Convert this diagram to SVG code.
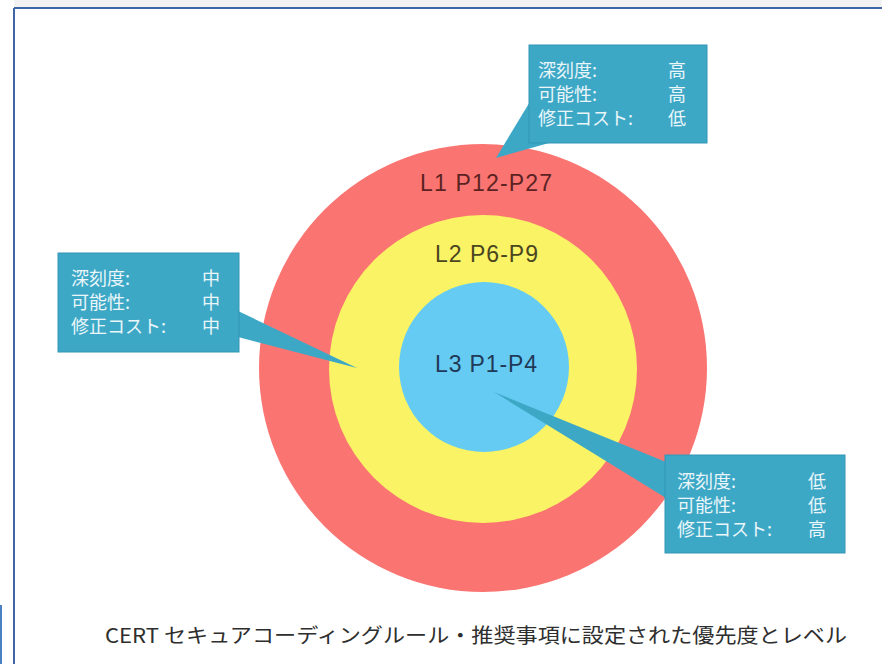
<svg xmlns="http://www.w3.org/2000/svg" width="882" height="664" viewBox="0 0 882 664">
<style>
.frame{stroke:#3f66a6;stroke-width:2;fill:none}
.ring-label{font-family:"Liberation Sans","Noto Sans",Arial,sans-serif;font-size:23px}
.box{fill:#3da8c6;stroke:#3296b5;stroke-width:1}
.tail{fill:#3da8c6}
.bt{font-family:"Noto Sans CJK JP","Noto Sans",sans-serif;font-size:18px;fill:#eaf6fa}
.cap{font-family:"Noto Sans CJK JP","Noto Sans",sans-serif;font-size:20px;fill:#2e2e2e}
</style>
<rect x="0" y="0" width="882" height="664" fill="#ffffff"/>
<rect x="14" y="0" width="868" height="7" fill="#f2f2f2"/>
<line class="frame" x1="14" y1="8" x2="882" y2="8"/>
<line class="frame" x1="14" y1="8" x2="14" y2="664"/>
<rect x="0" y="605" width="2" height="59" fill="#4a7fc0"/>

<g id="ring-l1">
<circle cx="483" cy="368" r="224" fill="#fa7572"/>
<text class="ring-label" x="420" y="191" fill="#5c2222" textLength="132">L1 P12-P27</text>
</g>
<g id="ring-l2">
<circle cx="483" cy="369" r="154" fill="#f9f365"/>
<text class="ring-label" x="435" y="262" fill="#4a4620" textLength="103">L2 P6-P9</text>
</g>
<g id="ring-l3">
<circle cx="484" cy="367" r="85" fill="#66cbf2"/>
<text class="ring-label" x="435" y="372" fill="#1f3a58" textLength="102">L3 P1-P4</text>
</g>

<g id="connectors">
<polygon class="tail" points="531,100 496,158 549,143"/>
<polygon class="tail" points="238,311 357,368 238,337"/>
<polygon class="tail" points="666,462 494,392 666,498"/>
</g>

<g id="callout-l1">
<rect class="box" x="529" y="45" width="178" height="98"/>
<text class="bt" x="538" y="77">深刻度:</text>
<text class="bt" x="668" y="77">高</text>
<text class="bt" x="538" y="101">可能性:</text>
<text class="bt" x="668" y="101">高</text>
<text class="bt" x="538" y="125">修正コスト:</text>
<text class="bt" x="668" y="125">低</text>
</g>

<g id="callout-l2">
<rect class="box" x="58" y="253" width="181" height="99"/>
<text class="bt" x="71" y="285">深刻度:</text>
<text class="bt" x="202" y="285">中</text>
<text class="bt" x="71" y="309">可能性:</text>
<text class="bt" x="202" y="309">中</text>
<text class="bt" x="71" y="333">修正コスト:</text>
<text class="bt" x="202" y="333">中</text>
</g>

<g id="callout-l3">
<rect class="box" x="665" y="455" width="180" height="98"/>
<text class="bt" x="677" y="488">深刻度:</text>
<text class="bt" x="808" y="488">低</text>
<text class="bt" x="677" y="512">可能性:</text>
<text class="bt" x="808" y="512">低</text>
<text class="bt" x="677" y="536">修正コスト:</text>
<text class="bt" x="808" y="536">高</text>
</g>

<g id="caption">
<text class="cap" x="105" y="643" textLength="742" lengthAdjust="spacingAndGlyphs">CERT セキュアコーディングルール・推奨事項に設定された優先度とレベル</text>
</g>
</svg>
